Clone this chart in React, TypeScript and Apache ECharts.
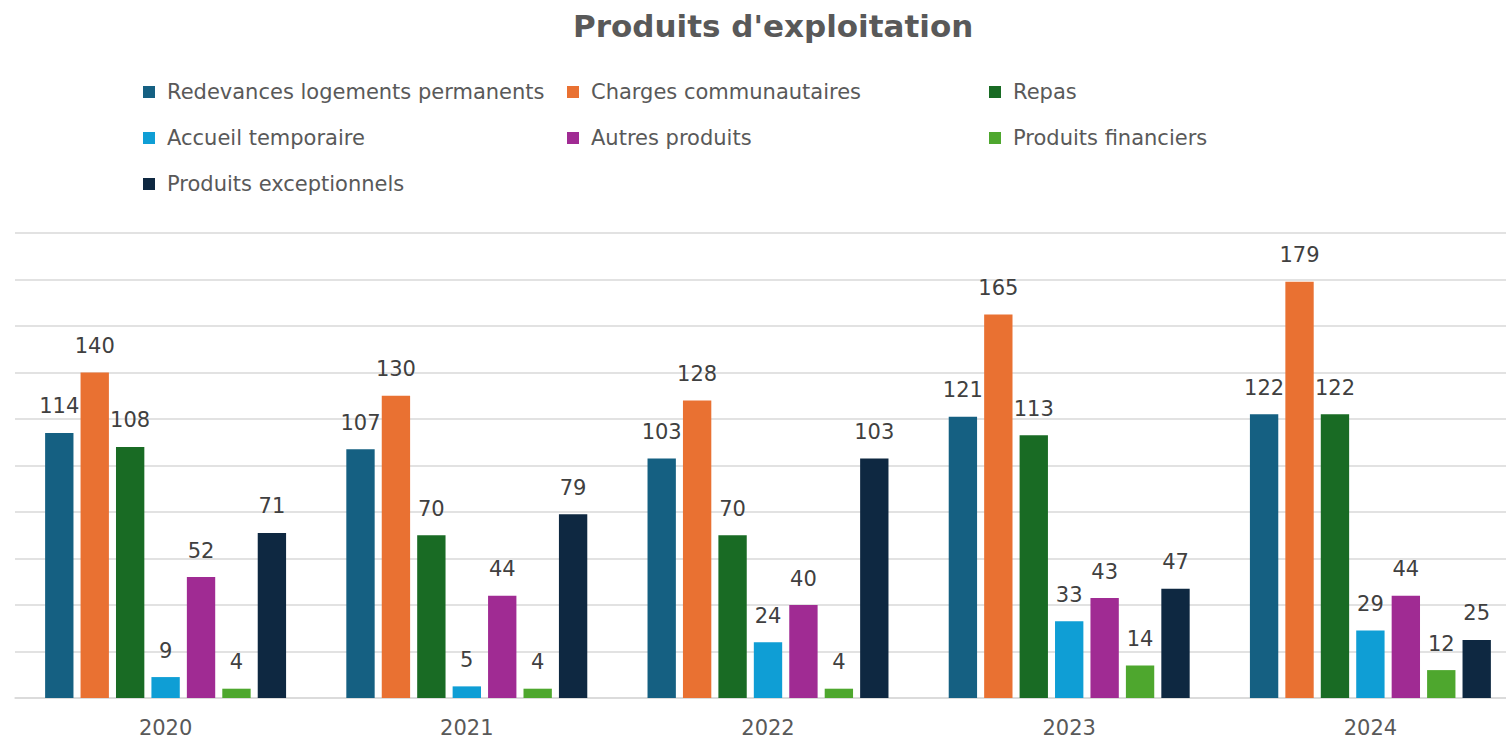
import React, { useEffect, useRef } from "react";
import * as echarts from "echarts";

const years = ["2020", "2021", "2022", "2023", "2024"];
const seriesNames = [
  "Redevances logements permanents",
  "Charges communautaires",
  "Repas",
  "Accueil temporaire",
  "Autres produits",
  "Produits financiers",
  "Produits exceptionnels",
];
const redevances = [114, 107, 103, 121, 122];
const charges = [140, 130, 128, 165, 179];
const repas = [108, 70, 70, 113, 122];
const accueil = [9, 5, 24, 33, 29];
const autres = [52, 44, 40, 43, 44];
const financiers = [4, 4, 4, 14, 12];
const exceptionnels = [71, 79, 103, 47, 25];
const colors = ["#156082", "#E97132", "#196B24", "#0F9ED5", "#A02B93", "#4EA72E", "#0E2841"];
const values = [redevances, charges, repas, accueil, autres, financiers, exceptionnels];

const FONT = "'DejaVu Sans', sans-serif";

export default function App() {
  const ref = useRef<HTMLDivElement>(null);
  useEffect(() => {
    if (!ref.current) return;
    const chart = echarts.init(ref.current, undefined, { renderer: "svg" });
    const legendText = { color: "#595959", fontSize: 21, fontFamily: FONT, lineHeight: 22, padding: [0, 0, 0, 7] };
    const mkLegend = (left: number, data: string[]) => ({
      orient: "vertical",
      left,
      top: 76,
      itemWidth: 12,
      itemHeight: 12,
      itemGap: 24,
      icon: "rect",
      textStyle: legendText,
      data,
    });
    chart.setOption({
      animation: false,
      backgroundColor: "#ffffff",
      title: {
        text: "Produits d'exploitation",
        left: 568,
        top: 5,
        textStyle: { color: "#595959", fontSize: 31, fontWeight: "bold", fontFamily: FONT },
      },
      legend: [
        mkLegend(138, [seriesNames[0], seriesNames[3], seriesNames[6]]),
        mkLegend(562, [seriesNames[1], seriesNames[4]]),
        mkLegend(984, [seriesNames[2], seriesNames[5]]),
      ],
      grid: { left: 15, right: 0, top: 233, bottom: 41, containLabel: false },
      xAxis: {
        type: "category",
        data: years,
        axisLine: { show: true, lineStyle: { color: "#d9d9d9", width: 1.5 } },
        axisTick: { show: false },
        axisLabel: { color: "#595959", fontSize: 21, fontFamily: FONT, margin: 19 },
      },
      yAxis: {
        type: "value",
        min: 0,
        max: 200,
        interval: 20,
        axisLabel: { show: false },
        axisLine: { show: false },
        axisTick: { show: false },
        splitLine: { lineStyle: { color: "#d9d9d9", width: 1.5 } },
      },
      series: seriesNames.map((name, i) => ({
        name,
        type: "bar",
        data: values[i],
        barGap: "25%",
        barCategoryGap: "20%",
        itemStyle: { color: colors[i] },
        label: {
          show: true,
          position: "top",
          distance: 16,
          color: "#404040",
          fontSize: 21,
          fontFamily: FONT,
        },
      })),
    });
    return () => chart.dispose();
  }, []);
  return (
    <div style={{ position: "absolute", left: 0, top: 0, width: 1506, height: 739, overflow: "hidden", background: "#fff" }}>
      <div ref={ref} style={{ width: 1521, height: 739 }} />
    </div>
  );
}
